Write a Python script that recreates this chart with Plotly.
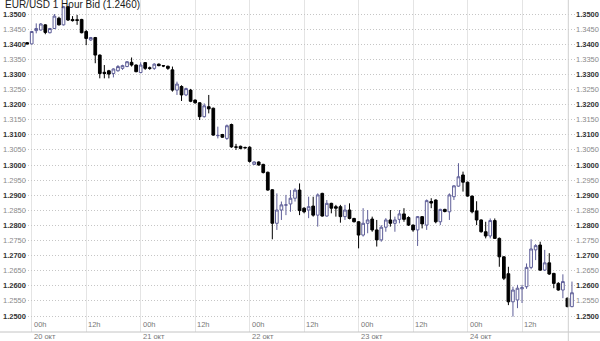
import plotly.graph_objects as go
import pandas as pd

title_text = "EUR/USD 1 Hour Bid (1.2460)"
first_bar = "2008-10-19 23:00"

open_ = [1.3405, 1.3401, 1.3445, 1.3447, 1.3464, 1.3438, 1.3452, 1.3486, 1.3464, 1.3524,
         1.3482, 1.3481, 1.3482, 1.3442, 1.3414, 1.3422, 1.3364, 1.3307, 1.3312, 1.3303,
         1.3312, 1.3320, 1.3326, 1.3340, 1.3331, 1.3306, 1.3339, 1.3322, 1.3320, 1.3334,
         1.3329, 1.3327, 1.3315, 1.3248, 1.3260, 1.3232, 1.3248, 1.3215, 1.3206, 1.3160,
         1.3193, 1.3188, 1.3097, 1.3101, 1.3088, 1.3134, 1.3060, 1.3062, 1.3058, 1.3059,
         1.3002, 1.3010, 1.3002, 1.2976, 1.2918, 1.2807, 1.2851, 1.2867, 1.2871, 1.2890,
         1.2917, 1.2857, 1.2851, 1.2864, 1.2834, 1.2906, 1.2831, 1.2873, 1.2862, 1.2862,
         1.2829, 1.2851, 1.2823, 1.2812, 1.2768, 1.2807, 1.2821, 1.2785, 1.2752, 1.2794,
         1.2818, 1.2807, 1.2820, 1.2838, 1.2826, 1.2801, 1.2785, 1.2829, 1.2801, 1.2879,
         1.2884, 1.2812, 1.2853, 1.2845, 1.2895, 1.2930, 1.2967, 1.2943, 1.2897, 1.2848,
         1.2818, 1.2779, 1.2765, 1.2816, 1.2757, 1.2696, 1.2640, 1.2547, 1.2553, 1.2590,
         1.2597, 1.2661, 1.2719, 1.2735, 1.2652, 1.2676, 1.2641, 1.2608, 1.2586, 1.2559,
         1.2531]
high = [1.3407, 1.3443, 1.3469, 1.3470, 1.3466, 1.3454, 1.3500, 1.3491, 1.3526, 1.3526,
        1.3493, 1.3497, 1.3484, 1.3447, 1.3424, 1.3424, 1.3366, 1.3331, 1.3315, 1.3320,
        1.3331, 1.3332, 1.3344, 1.3356, 1.3333, 1.3340, 1.3341, 1.3326, 1.3337, 1.3336,
        1.3331, 1.3329, 1.3326, 1.3276, 1.3264, 1.3256, 1.3252, 1.3217, 1.3208, 1.3204,
        1.3232, 1.3190, 1.3127, 1.3103, 1.3134, 1.3137, 1.3070, 1.3064, 1.3061, 1.3062,
        1.3012, 1.3012, 1.3004, 1.2978, 1.2920, 1.2906, 1.2879, 1.2901, 1.2917, 1.2923,
        1.2939, 1.2860, 1.2895, 1.2895, 1.2906, 1.2908, 1.2884, 1.2875, 1.2868, 1.2868,
        1.2868, 1.2873, 1.2825, 1.2814, 1.2857, 1.2851, 1.2829, 1.2818, 1.2801, 1.2824,
        1.2851, 1.2829, 1.2851, 1.2857, 1.2830, 1.2803, 1.2831, 1.2831, 1.2886, 1.2890,
        1.2886, 1.2855, 1.2855, 1.2906, 1.2933, 1.3006, 1.2978, 1.2945, 1.2899, 1.2880,
        1.2820, 1.2812, 1.2823, 1.2823, 1.2760, 1.2698, 1.2663, 1.2597, 1.2603, 1.2603,
        1.2674, 1.2754, 1.2738, 1.2746, 1.2719, 1.2708, 1.2643, 1.2612, 1.2638, 1.2561,
        1.2614]
low = [1.3399, 1.3399, 1.3436, 1.3445, 1.3433, 1.3436, 1.3450, 1.3462, 1.3462, 1.3477,
       1.3475, 1.3464, 1.3436, 1.3397, 1.3411, 1.3337, 1.3287, 1.3287, 1.3287, 1.3290,
       1.3309, 1.3315, 1.3324, 1.3326, 1.3307, 1.3304, 1.3315, 1.3315, 1.3315, 1.3327,
       1.3324, 1.3315, 1.3243, 1.3232, 1.3212, 1.3228, 1.3208, 1.3203, 1.3149, 1.3157,
       1.3171, 1.3097, 1.3088, 1.3090, 1.3083, 1.3057, 1.3050, 1.3052, 1.3054, 1.3008,
       1.3000, 1.2998, 1.2972, 1.2915, 1.2754, 1.2785, 1.2818, 1.2834, 1.2845, 1.2879,
       1.2834, 1.2840, 1.2824, 1.2829, 1.2796, 1.2829, 1.2829, 1.2840, 1.2829, 1.2809,
       1.2818, 1.2820, 1.2810, 1.2724, 1.2763, 1.2774, 1.2779, 1.2730, 1.2746, 1.2779,
       1.2796, 1.2779, 1.2807, 1.2812, 1.2798, 1.2779, 1.2732, 1.2790, 1.2785, 1.2857,
       1.2807, 1.2801, 1.2843, 1.2818, 1.2884, 1.2928, 1.2912, 1.2895, 1.2840, 1.2801,
       1.2776, 1.2757, 1.2757, 1.2755, 1.2663, 1.2619, 1.2536, 1.2498, 1.2526, 1.2543,
       1.2590, 1.2655, 1.2685, 1.2649, 1.2649, 1.2636, 1.2592, 1.2584, 1.2559, 1.2529,
       1.2529]
close = [1.3401, 1.3442, 1.3452, 1.3467, 1.3439, 1.3452, 1.3493, 1.3464, 1.3524, 1.3480,
         1.3478, 1.3479, 1.3438, 1.3419, 1.3422, 1.3364, 1.3303, 1.3303, 1.3301, 1.3318,
         1.3326, 1.3329, 1.3342, 1.3331, 1.3309, 1.3331, 1.3320, 1.3320, 1.3334, 1.3329,
         1.3328, 1.3320, 1.3248, 1.3268, 1.3232, 1.3253, 1.3211, 1.3206, 1.3160, 1.3196,
         1.3186, 1.3099, 1.3098, 1.3092, 1.3130, 1.3060, 1.3059, 1.3055, 1.3057, 1.3012,
         1.3010, 1.3000, 1.2975, 1.2917, 1.2807, 1.2851, 1.2868, 1.2868, 1.2890, 1.2917,
         1.2849, 1.2845, 1.2862, 1.2834, 1.2901, 1.2831, 1.2873, 1.2857, 1.2857, 1.2829,
         1.2851, 1.2823, 1.2812, 1.2768, 1.2807, 1.2818, 1.2785, 1.2752, 1.2794, 1.2818,
         1.2807, 1.2818, 1.2838, 1.2820, 1.2801, 1.2785, 1.2829, 1.2805, 1.2882, 1.2874,
         1.2812, 1.2853, 1.2846, 1.2901, 1.2931, 1.2961, 1.2943, 1.2897, 1.2845, 1.2818,
         1.2779, 1.2765, 1.2816, 1.2757, 1.2696, 1.2625, 1.2547, 1.2586, 1.2592, 1.2594,
         1.2661, 1.2722, 1.2733, 1.2652, 1.2676, 1.2639, 1.2608, 1.2586, 1.2614, 1.2531,
         1.2577]

price_ticks = [1.2500, 1.2550, 1.2600, 1.2650, 1.2700, 1.2750, 1.2800, 1.2850, 1.2900,
               1.2950, 1.3000, 1.3050, 1.3100, 1.3150, 1.3200, 1.3250, 1.3300, 1.3350,
               1.3400, 1.3450, 1.3500]
time_ticks = ["2008-10-20 00:00", "2008-10-20 12:00", "2008-10-21 00:00", "2008-10-21 12:00",
              "2008-10-22 00:00", "2008-10-22 12:00", "2008-10-23 00:00", "2008-10-23 12:00",
              "2008-10-24 00:00", "2008-10-24 12:00"]
hour_labels = ["00h", "12h", "00h", "12h", "00h", "12h", "00h", "12h", "00h", "12h"]
date_labels = ["20 окт", "", "21 окт", "", "22 окт", "", "23 окт", "", "24 окт", ""]

times = pd.date_range(first_bar, periods=len(open_), freq="h")

W, H = 600, 341
ML, MR, MT, MB = 25, 25, 0, 9
PW, PH = W - ML - MR, H - MT - MB

base = pd.Timestamp("2008-10-20 00:00")
px_per_hour = 4.54
x0_px = 31.7
xr0 = base + pd.Timedelta(hours=(ML - x0_px) / px_per_hour)
xr1 = base + pd.Timedelta(hours=(ML + PW - x0_px) / px_per_hour)

px_per_unit = 3020.0
yr1 = 1.35 + 14 / px_per_unit
yr0 = 1.35 - (PH - 14) / px_per_unit

fig = go.Figure(go.Candlestick(
    x=times, open=open_, high=high, low=low, close=close,
    increasing=dict(line=dict(color="#5e5e98", width=1), fillcolor="white"),
    decreasing=dict(line=dict(color="#000000", width=1), fillcolor="#000000"),
    whiskerwidth=0, hoverinfo="skip", showlegend=False,
))

font_family = "Liberation Sans, Arial, sans-serif"
ann = []
ann.append(dict(text=title_text, xref="paper", yref="paper",
                x=(3 - ML) / PW, y=(PH - 5) / PH, xanchor="left", yanchor="middle",
                showarrow=False, font=dict(family=font_family, size=10, color="#1a1a1a")))
for v in price_ticks:
    s = f"{v:.4f}"
    major = abs(round(v * 100) - v * 100) < 1e-6
    txt = f"<b>{s}</b>" if major else s
    col = "#333333" if major else "#8a8a8a"
    ann.append(dict(text=txt, xref="paper", yref="y", x=(28 - ML) / PW, y=v,
                    xanchor="right", yanchor="middle", showarrow=False,
                    font=dict(family=font_family, size=7.5, color=col)))
    ann.append(dict(text=txt, xref="paper", yref="y", x=(574 - ML) / PW, y=v,
                    xanchor="left", yanchor="middle", showarrow=False,
                    font=dict(family=font_family, size=7.5, color=col)))
for t, hl, dl in zip(time_ticks, hour_labels, date_labels):
    ann.append(dict(text=hl, xref="x", yref="paper", x=t, y=(PH - 324) / PH,
                    xanchor="left", yanchor="middle", showarrow=False, xshift=0,
                    font=dict(family=font_family, size=7.5, color="#777777")))
    if dl:
        ann.append(dict(text=dl, xref="x", yref="paper", x=t, y=(PH - 336.5) / PH,
                        xanchor="left", yanchor="middle", showarrow=False, xshift=0,
                        font=dict(family=font_family, size=7.5, color="#777777")))

shapes = [
    dict(type="line", xref="paper", yref="paper", x0=-ML / PW, x1=1 + MR / PW, y0=0, y1=0,
         line=dict(color="#c4c4c4", width=1)),
    dict(type="line", xref="paper", yref="paper", x0=(568.3 - ML) / PW, x1=(568.3 - ML) / PW,
         y0=-MB / PH, y1=1, line=dict(color="#cfcfcf", width=1)),
]

fig.update_layout(
    width=W, height=H, margin=dict(l=ML, r=MR, t=MT, b=MB, pad=0),
    paper_bgcolor="white", plot_bgcolor="white",
    annotations=ann, shapes=shapes, boxgap=0.15,
    xaxis=dict(type="date", range=[xr0, xr1], tickvals=time_ticks, showticklabels=False,
               showgrid=True, gridcolor="#e4e4e4", gridwidth=1, zeroline=False,
               showline=False, ticks="", rangeslider=dict(visible=False)),
    yaxis=dict(range=[yr0, yr1], tickvals=price_ticks, showticklabels=False,
               showgrid=True, gridcolor="#c6c6c6", griddash="1px,2px", gridwidth=1,
               zeroline=False, showline=False, ticks=""),
)

fig.write_html("out.html")
